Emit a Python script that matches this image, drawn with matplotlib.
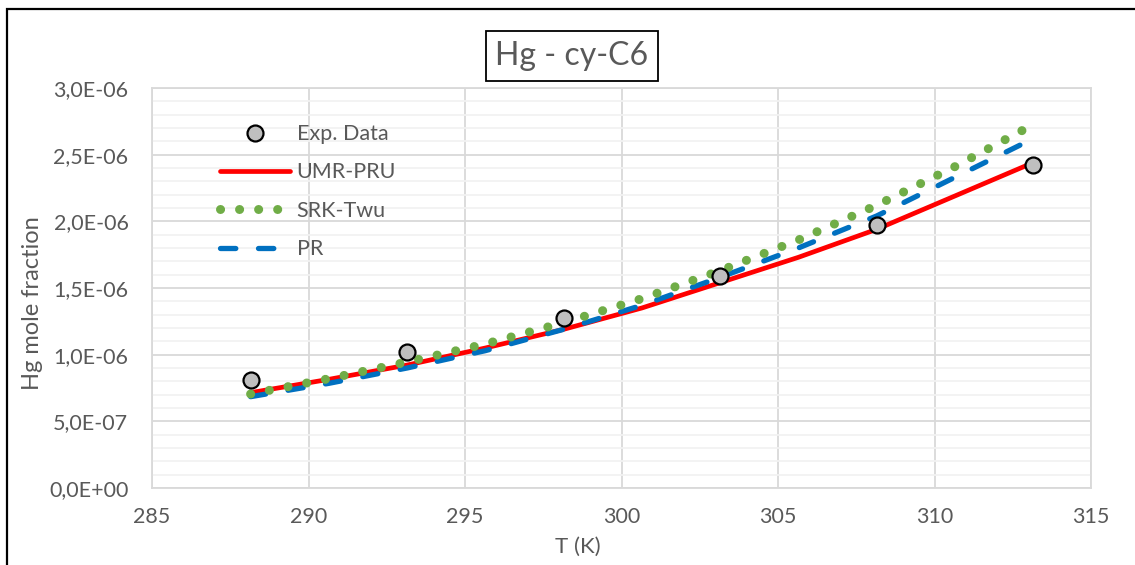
import numpy as np
import matplotlib
matplotlib.use("Agg")
import matplotlib.pyplot as plt
from matplotlib.patches import Rectangle
from matplotlib.ticker import MultipleLocator, FuncFormatter

plt.rcParams['font.family'] = ['Lato', 'DejaVu Sans']

# experimental points
t_exp = [288.15, 293.15, 298.15, 303.15, 308.15, 313.15]
x_exp = [8.1e-7, 1.02e-6, 1.275e-6, 1.59e-6, 1.97e-6, 2.42e-6]

# model curves
t_umr = [288.15, 290.65, 293.15, 295.65, 298.15, 300.65, 303.15, 305.65, 308.15, 310.65, 313.15]
x_umr = [7.15e-7, 8.15e-7, 9.22e-7, 1.05e-6, 1.19e-6, 1.35e-6, 1.54e-6, 1.73e-6, 1.94e-6, 2.19e-6, 2.44e-6]

t_srk = [288.15, 290.65, 293.15, 295.65, 298.15, 300.65, 303.15, 305.65, 308.15, 310.65, 312.95]
x_srk = [7.05e-7, 8.2e-7, 9.45e-7, 1.08e-6, 1.24e-6, 1.42e-6, 1.63e-6, 1.86e-6, 2.12e-6, 2.41e-6, 2.70e-6]

t_pr = [288.15, 290.65, 293.15, 295.65, 298.15, 300.65, 303.15, 305.65, 308.15, 310.65, 313.15]
x_pr = [6.85e-7, 7.85e-7, 9.0e-7, 1.03e-6, 1.19e-6, 1.37e-6, 1.58e-6, 1.80e-6, 2.04e-6, 2.33e-6, 2.62e-6]

txt = '#595959'
W, H = 1135, 565

fig = plt.figure(figsize=(W / 100, H / 100), dpi=100)
fig.patch.set_facecolor('white')

# outer chart border (right/bottom edges run off the image)
fig.add_artist(Rectangle((6.5 / W, -0.05), 1.2, 1 - 8.5 / H + 0.05, transform=fig.transFigure,
                         fill=False, edgecolor='black', lw=1.6))

ax = fig.add_axes([152 / W, (H - 488) / H, 939 / W, 400 / H])

ax.plot(t_umr, x_umr, color='#ff0000', lw=3.4, solid_capstyle='round', zorder=3, label='UMR-PRU')
ax.plot(t_pr, x_pr, color='#0070c0', lw=3.8, ls=(0, (2.9, 4.3)), dash_capstyle='round',
        zorder=4, label='PR')
ax.plot(t_srk, x_srk, color='#70ad47', lw=6.5, ls=(0, (0.01, 2.1)), dash_capstyle='round',
        zorder=5, label='SRK-Twu')
ax.plot(t_exp, x_exp, ls='none', marker='o', ms=11.5, mfc='#bfbfbf', mec='black', mew=1.6,
        zorder=6, label='Exp. Data')

ax.set_xlim(285, 315)
ax.set_ylim(0, 3e-6)
ax.xaxis.set_major_locator(MultipleLocator(5))
ax.yaxis.set_major_locator(MultipleLocator(5e-7))
ax.yaxis.set_minor_locator(MultipleLocator(1e-7))
ax.yaxis.set_major_formatter(FuncFormatter(lambda v, p: f"{v:.1E}".replace('.', ',')))
ax.grid(which='major', color='#d9d9d9', lw=1.3, zorder=0)
ax.grid(which='minor', axis='y', color='#f2f2f2', lw=1.3, zorder=0)
ax.set_axisbelow(True)
for s in ax.spines.values():
    s.set_color('#d9d9d9')
    s.set_linewidth(1.3)
ax.tick_params(which='both', length=0, colors=txt, labelsize=15.5)
ax.tick_params(axis='y', pad=17)
ax.tick_params(axis='x', pad=14)

ax.set_xlabel('T (K)', color=txt, fontsize=16)
ax.xaxis.set_label_coords((578 - 152) / 939, -(547 - 488) / 400)
ax.xaxis.label.set_va('center')
ax.set_ylabel('Hg mole fraction', color=txt, fontsize=17)
ax.yaxis.set_label_coords(-(152 - 33) / 939, (488 - 303) / 400)
ax.yaxis.label.set_va('center')

handles, labels = ax.get_legend_handles_labels()
order = [3, 0, 2, 1]
leg = ax.legend([handles[i] for i in order], [labels[i] for i in order],
                loc='upper left', bbox_to_anchor=(0.052, 0.958), frameon=False,
                fontsize=15.5, handlelength=3.25, labelspacing=0.85, handletextpad=0.3,
                numpoints=1, labelcolor=txt)

fig.text(572 / W, 1 - 56 / H, 'Hg - cy-C6', ha='center', va='center', fontsize=23, color=txt,
         bbox=dict(boxstyle='square,pad=0.3', fc='white', ec='black', lw=1.3))

fig.savefig('out.png', dpi=100)
